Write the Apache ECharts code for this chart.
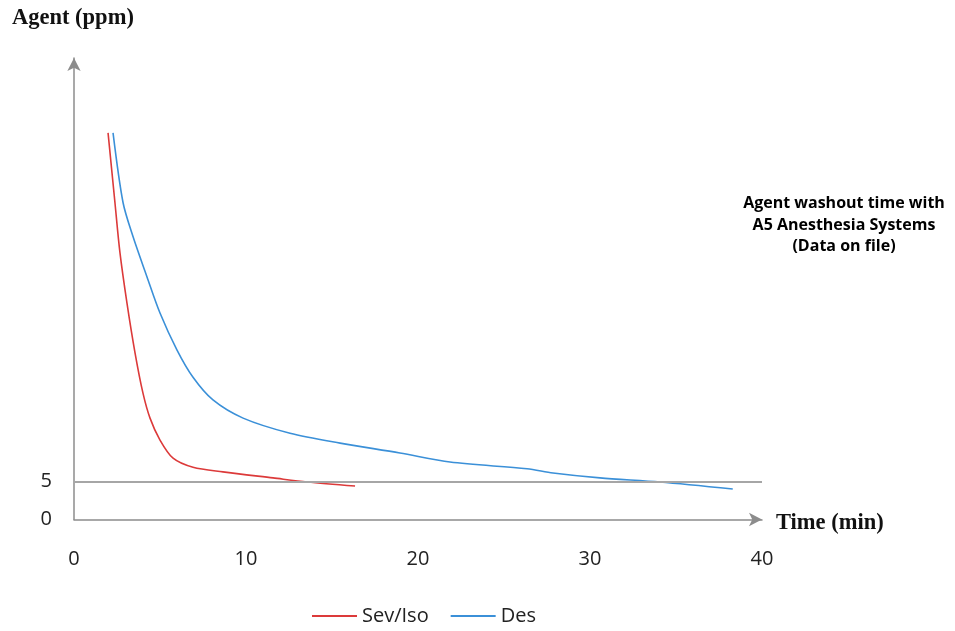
<!DOCTYPE html>
<html>
<head>
<meta charset="utf-8">
<script src="https://cdn.jsdelivr.net/npm/echarts@6/dist/echarts.min.js"></script>
<style>
  html, body { margin: 0; padding: 0; background: #fff; }
  #chart { width: 955px; height: 631px; }
</style>
</head>
<body>
<div id="chart"></div>
<script>
// washout curves: [minutes, ppm]
const sevIso = [
  [1.98, 51.1], [2.38, 41.9], [2.67, 35.3], [3.08, 28.6], [3.55, 22.0],
  [4.01, 16.7], [4.42, 13.4], [5.0, 10.5], [5.76, 8.1], [6.92, 6.9],
  [8.66, 6.3], [11.57, 5.5], [13.55, 4.96], [16.34, 4.43]
];
const des = [
  [2.27, 51.1], [2.85, 41.9], [3.43, 37.4], [4.24, 32.1], [5.0, 27.3],
  [5.99, 22.4], [6.92, 18.8], [8.08, 15.8], [9.83, 13.4], [12.56, 11.4],
  [15.47, 10.1], [18.95, 8.8], [21.86, 7.6], [26.34, 6.7], [27.85, 6.15],
  [30.58, 5.5], [34.07, 4.96], [38.3, 4.03]
];
const xTicks = [0, 10, 20, 30, 40];
const yTicks = [0, 5];
const seriesNames = ['Sev/Iso', 'Des'];
const refLevel = 5;

const chart = echarts.init(document.getElementById('chart'));
const labelFont = '"Open Sans", sans-serif';

chart.setOption({
  animation: false,
  grid: { left: 74, right: 193, top: 58, bottom: 111.5 },
  xAxis: {
    type: 'value',
    min: 0,
    max: 40,
    interval: 10,
    axisLine: {
      show: true,
      symbol: ['none', 'arrow'],
      symbolSize: [10, 13],
      lineStyle: { color: '#8c8c8c', width: 1.5 }
    },
    axisTick: { show: false },
    splitLine: { show: false },
    axisLabel: {
      margin: 30,
      fontSize: 20,
      color: '#222',
      fontFamily: labelFont,
      formatter: v => (xTicks.indexOf(v) >= 0 ? String(v) : '')
    }
  },
  yAxis: {
    type: 'value',
    min: 0,
    max: 61,
    interval: 5,
    axisLine: {
      show: true,
      symbol: ['none', 'arrow'],
      symbolSize: [10, 13],
      lineStyle: { color: '#8c8c8c', width: 1.5 }
    },
    axisTick: { show: false },
    splitLine: { show: false },
    axisLabel: {
      margin: 22,
      fontSize: 20,
      color: '#222',
      fontFamily: labelFont,
      formatter: v => (yTicks.indexOf(v) >= 0 ? String(v) : '')
    }
  },
  legend: {
    bottom: 0,
    left: 307,
    icon: 'rect',
    itemWidth: 45,
    itemHeight: 2,
    itemGap: 22,
    textStyle: { fontSize: 20, color: '#222', fontFamily: labelFont },
    data: seriesNames
  },
  graphic: [
    {
      type: 'text', x: 12, y: 7,
      style: { text: 'Agent (ppm)', font: 'bold 22.5px "Liberation Serif", serif', fill: '#111' }
    },
    {
      type: 'text', x: 776, y: 512,
      style: { text: 'Time (min)', font: 'bold 22.5px "Liberation Serif", serif', fill: '#111' }
    },
    {
      type: 'text', x: 844, y: 193,
      style: {
        text: 'Agent washout time with\nA5 Anesthesia Systems\n(Data on file)',
        font: 'bold 16px "Open Sans", sans-serif',
        fill: '#000',
        align: 'center',
        lineHeight: 21.5
      }
    }
  ],
  series: [
    {
      name: seriesNames[0],
      type: 'line',
      data: sevIso,
      smooth: 0.3,
      symbol: 'none',
      lineStyle: { color: '#dc3a3a', width: 1.6 },
      itemStyle: { color: '#dc3a3a' },
      z: 3,
      markLine: {
        silent: true,
        symbol: 'none',
        label: { show: false },
        lineStyle: { color: '#a6a6a6', width: 2, type: 'solid' },
        data: [{ yAxis: refLevel }]
      }
    },
    {
      name: seriesNames[1],
      type: 'line',
      data: des,
      smooth: 0.3,
      symbol: 'none',
      lineStyle: { color: '#3b90d8', width: 1.6 },
      itemStyle: { color: '#3b90d8' },
      z: 3
    }
  ]
});
</script>
</body>
</html>
